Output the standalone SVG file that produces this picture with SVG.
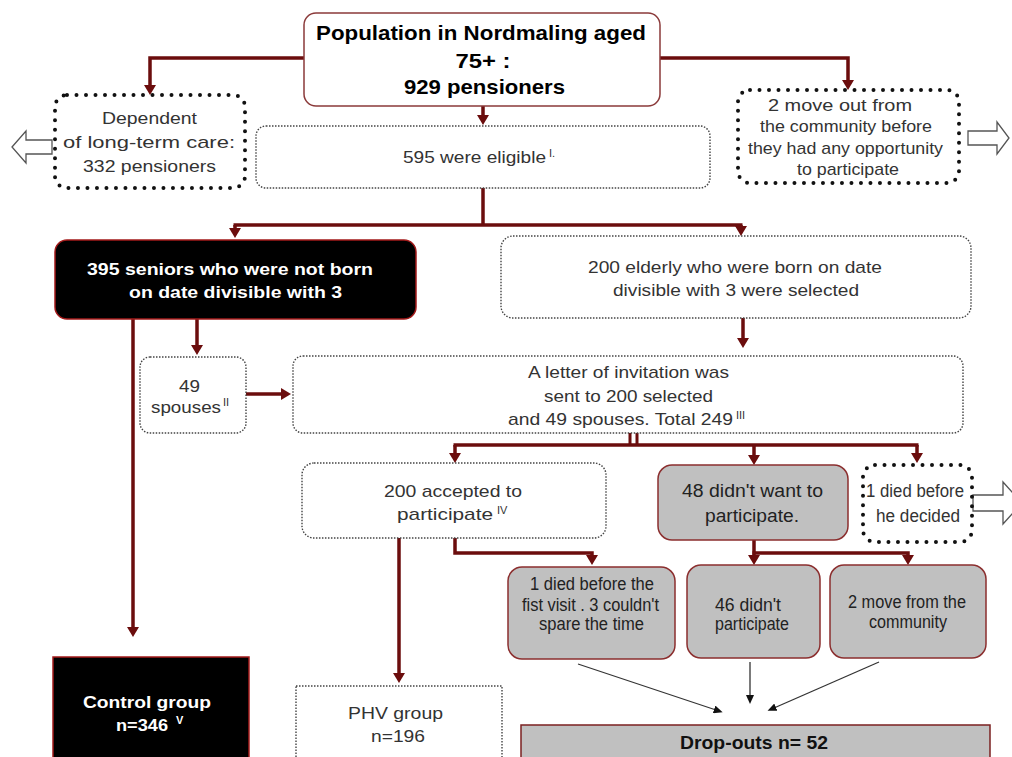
<svg xmlns="http://www.w3.org/2000/svg" width="1012" height="757" viewBox="0 0 1012 757">
<defs>
<style>
text{font-family:"Liberation Sans",Arial,sans-serif;}
.t{font-size:17px;fill:#333;text-anchor:middle;}
.g{font-size:17.5px;fill:#222;text-anchor:middle;}
.b{font-size:20.5px;font-weight:bold;fill:#000;text-anchor:middle;}
.w{font-size:17px;font-weight:bold;fill:#fff;text-anchor:middle;}
.bd{font-size:17.5px;font-weight:bold;fill:#111;text-anchor:middle;}
.sup{font-size:11px;fill:#333;}
.supw{font-size:11px;fill:#fff;font-weight:bold;}
.thin{fill:#fff;stroke:#444;stroke-width:1.4;stroke-dasharray:1.5 1.5;}
.thick{fill:#fff;stroke:#111;stroke-width:4;stroke-dasharray:0 9.5;stroke-linecap:round;}
.gray{fill:#c0c0c0;stroke:#8b2e2e;stroke-width:1.5;}
.blk{fill:#000;stroke:#a31a1a;stroke-width:1.5;}
.conn{fill:none;stroke:#6b0d0d;stroke-width:3.5;}
.thinarrow{fill:none;stroke:#333;stroke-width:1.3;}
.hollow{fill:#fff;stroke:#555;stroke-width:1.3;}
</style>
<marker id="ah" viewBox="0 0 10 12" refX="2" refY="6" markerWidth="10" markerHeight="12" markerUnits="userSpaceOnUse" orient="auto">
<path d="M0,0 L10,6 L0,12 z" fill="#6b0d0d"/>
</marker>
<marker id="ak" viewBox="0 0 9 8" refX="2" refY="4" markerWidth="9" markerHeight="8" markerUnits="userSpaceOnUse" orient="auto">
<path d="M0,0 L9,4 L0,8 z" fill="#111"/>
</marker>
</defs>
<rect width="1012" height="757" fill="#fff"/>

<g id="connectors">
<path class="conn" d="M304,58 H150 V87" marker-end="url(#ah)"/>
<path class="conn" d="M660,58 H848 V82" marker-end="url(#ah)"/>
<path class="conn" d="M483,106 V117" marker-end="url(#ah)"/>
<path class="conn" d="M483,188 V225"/>
<path class="conn" d="M233.5,225 H742.5"/>
<path class="conn" d="M235,225 V230" marker-end="url(#ah)"/>
<path class="conn" d="M741,225 V228" marker-end="url(#ah)"/>
<path class="conn" d="M197,319 V347" marker-end="url(#ah)"/>
<path class="conn" d="M133,319 V629" marker-end="url(#ah)"/>
<path class="conn" d="M743,318 V340" marker-end="url(#ah)"/>
<path class="conn" d="M246,394 H283" marker-end="url(#ah)"/>
<path class="conn" d="M630,432 V445 M637,432 V445" style="stroke-width:3"/>
<path class="conn" d="M453.5,445 H918.5"/>
<path class="conn" d="M455,445 V455" marker-end="url(#ah)"/>
<path class="conn" d="M754,445 V457" marker-end="url(#ah)"/>
<path class="conn" d="M917,445 V455" marker-end="url(#ah)"/>
<path class="conn" d="M399,538 V675" marker-end="url(#ah)"/>
<path class="conn" d="M455,538 V553 H592 V557" marker-end="url(#ah)"/>
<path class="conn" d="M754,540 V557" marker-end="url(#ah)"/>
<path class="conn" d="M752.5,553 H908 V557" marker-end="url(#ah)"/>
<path class="thinarrow" d="M578,664 L716,710" marker-end="url(#ak)"/>
<path class="thinarrow" d="M750,662 L750,697" marker-end="url(#ak)"/>
<path class="thinarrow" d="M879,662 L774,708" marker-end="url(#ak)"/>
<polygon class="hollow" points="12,147 26,131 26,140 52,140 52,154 26,154 26,163"/>
<polygon class="hollow" points="968,131 997,131 997,122 1009,138 997,154 997,145 968,145"/>
<polygon class="hollow" points="973,495 1003,495 1003,482 1022,503 1003,524 1003,511 973,511"/>
</g>

<g id="n-population">
<rect x="304" y="13" width="356" height="93" rx="12" fill="#fff" stroke="#8b3a3a" stroke-width="1.5"/>
<text class="b" x="481" y="40" textLength="330" lengthAdjust="spacingAndGlyphs">Population in Nordmaling aged</text>
<text class="b" x="483" y="68" textLength="55" lengthAdjust="spacingAndGlyphs">75+ :</text>
<text class="b" x="484.5" y="94" textLength="161" lengthAdjust="spacingAndGlyphs">929 pensioners</text>
</g>

<g id="n-dependent">
<rect class="thick" x="55" y="95" width="190" height="93" rx="12"/>
<text class="t" x="149.5" y="124" textLength="95" lengthAdjust="spacingAndGlyphs">Dependent</text>
<text class="t" x="149" y="148" textLength="172" lengthAdjust="spacingAndGlyphs">of long-term care:</text>
<text class="t" x="149.5" y="172" textLength="133" lengthAdjust="spacingAndGlyphs">332 pensioners</text>
</g>

<g id="n-moveout">
<rect class="thick" x="738" y="90" width="221" height="93" rx="12"/>
<text class="t" x="840" y="111" textLength="144" lengthAdjust="spacingAndGlyphs">2 move out from</text>
<text class="t" x="846" y="132" textLength="172" lengthAdjust="spacingAndGlyphs">the community before</text>
<text class="t" x="845.5" y="154" textLength="195" lengthAdjust="spacingAndGlyphs">they had any opportunity</text>
<text class="t" x="848" y="175" textLength="102" lengthAdjust="spacingAndGlyphs">to participate</text>
</g>

<g id="n-eligible">
<rect class="thin" x="256" y="126" width="454" height="62" rx="10"/>
<text class="t" x="474.5" y="163" textLength="143" lengthAdjust="spacingAndGlyphs">595 were eligible</text>
<text class="sup" x="549" y="157">I.</text>
</g>

<g id="n-notborn">
<rect class="blk" x="55" y="240" width="361" height="79" rx="12"/>
<text class="w" x="230" y="275" textLength="286" lengthAdjust="spacingAndGlyphs">395 seniors who were not born</text>
<text class="w" x="235.5" y="298" textLength="213" lengthAdjust="spacingAndGlyphs">on date divisible with 3</text>
</g>

<g id="n-selected">
<rect class="thin" x="501" y="236" width="470" height="82" rx="12"/>
<text class="t" x="735" y="273" textLength="294" lengthAdjust="spacingAndGlyphs">200 elderly who were born on date</text>
<text class="t" x="736" y="296" textLength="246" lengthAdjust="spacingAndGlyphs">divisible with 3 were selected</text>
</g>

<g id="n-spouses">
<rect class="thin" x="140" y="357" width="106" height="76" rx="10"/>
<text class="t" x="189.5" y="392" textLength="21" lengthAdjust="spacingAndGlyphs">49</text>
<text class="t" x="186" y="413" textLength="70" lengthAdjust="spacingAndGlyphs">spouses</text>
<text class="sup" x="223" y="406">II</text>
</g>

<g id="n-letter">
<rect class="thin" x="293" y="356" width="670" height="77" rx="10"/>
<text class="t" x="628.5" y="378" textLength="201" lengthAdjust="spacingAndGlyphs">A letter of invitation was</text>
<text class="t" x="628.5" y="402" textLength="169" lengthAdjust="spacingAndGlyphs">sent to 200 selected</text>
<text class="t" x="620.5" y="425" textLength="225" lengthAdjust="spacingAndGlyphs">and 49 spouses. Total 249</text>
<text class="sup" x="736" y="419">III</text>
</g>

<g id="n-accepted">
<rect class="thin" x="302" y="463" width="304" height="75" rx="12"/>
<text class="t" x="453" y="497" textLength="138" lengthAdjust="spacingAndGlyphs">200 accepted to</text>
<text class="t" x="445" y="520" textLength="96" lengthAdjust="spacingAndGlyphs">participate</text>
<text class="sup" x="497" y="514">IV</text>
</g>

<g id="n-didntwant">
<rect class="gray" x="658" y="465" width="190" height="75" rx="14"/>
<text class="g" x="752.5" y="497" textLength="141" lengthAdjust="spacingAndGlyphs">48 didn't want to</text>
<text class="g" x="752" y="522" textLength="94" lengthAdjust="spacingAndGlyphs">participate.</text>
</g>

<g id="n-diedbefore">
<rect class="thick" x="863" y="465" width="109" height="77" rx="12"/>
<text class="g" x="915" y="497" textLength="98" lengthAdjust="spacingAndGlyphs" style="fill:#333">1 died before</text>
<text class="g" x="918" y="522" textLength="84" lengthAdjust="spacingAndGlyphs" style="fill:#333">he decided</text>
</g>

<g id="n-diedvisit">
<rect class="gray" x="508" y="567" width="167" height="92" rx="14"/>
<text class="g" x="592" y="590" textLength="124" lengthAdjust="spacingAndGlyphs">1 died before the</text>
<text class="g" x="590.5" y="611" textLength="137" lengthAdjust="spacingAndGlyphs">fist visit . 3 couldn't</text>
<text class="g" x="591.5" y="630" textLength="105" lengthAdjust="spacingAndGlyphs">spare the time</text>
</g>

<g id="n-46">
<rect class="gray" x="687" y="565" width="133" height="93" rx="14"/>
<text class="g" x="748" y="611" textLength="66" lengthAdjust="spacingAndGlyphs">46 didn't</text>
<text class="g" x="752" y="630" textLength="74" lengthAdjust="spacingAndGlyphs">participate</text>
</g>

<g id="n-movefrom">
<rect class="gray" x="830" y="565" width="156" height="93" rx="14"/>
<text class="g" x="907" y="608" textLength="118" lengthAdjust="spacingAndGlyphs">2 move from the</text>
<text class="g" x="908" y="628" textLength="78" lengthAdjust="spacingAndGlyphs">community</text>
</g>

<g id="n-control">
<rect class="blk" x="53" y="657" width="196" height="110"/>
<text class="w" x="147" y="708" textLength="128" lengthAdjust="spacingAndGlyphs">Control group</text>
<text class="w" x="142" y="731" textLength="52" lengthAdjust="spacingAndGlyphs">n=346</text>
<text class="supw" x="176" y="724">V</text>
</g>

<g id="n-phv">
<rect class="thin" x="296" y="686" width="206" height="80"/>
<text class="t" x="395.5" y="719" textLength="95" lengthAdjust="spacingAndGlyphs">PHV group</text>
<text class="t" x="398" y="742" textLength="54" lengthAdjust="spacingAndGlyphs">n=196</text>
</g>

<g id="n-dropouts">
<rect x="521" y="725" width="469" height="50" fill="#c0c0c0" stroke="#7b2020" stroke-width="1.5"/>
<text class="bd" x="754" y="749" textLength="148" lengthAdjust="spacingAndGlyphs">Drop-outs n= 52</text>
</g>
</svg>
